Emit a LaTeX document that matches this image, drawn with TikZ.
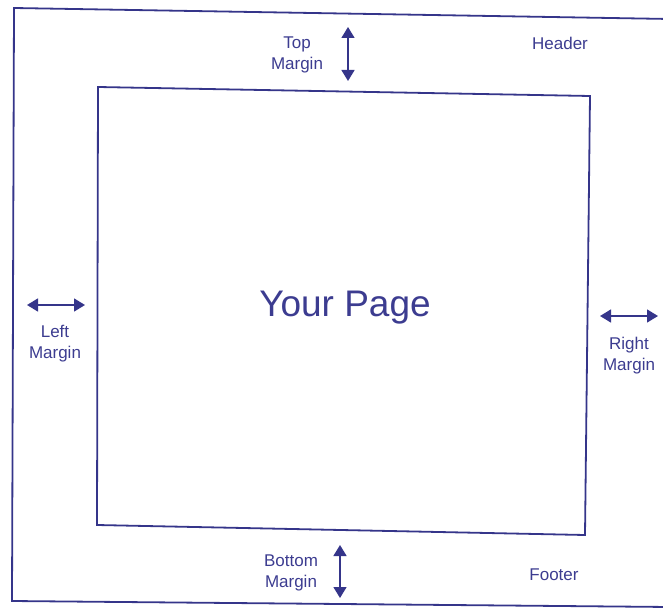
\documentclass[tikz,border=0pt]{standalone}
\usepackage{fontspec}
\setmainfont{Liberation Sans}
\usetikzlibrary{arrows.meta}
\definecolor{ink}{HTML}{35358A}
\definecolor{txt}{HTML}{3C3C90}
\tikzset{
  frame/.style={draw=ink, line width=1.8pt},
  lbl/.style={text=txt, font=\fontsize{17}{21}\selectfont, align=center, inner sep=0pt},
  big/.style={text=txt, font=\fontsize{37}{40}\selectfont, inner sep=0pt},
  dblarrow/.style={draw=ink, line width=1.5pt, {Triangle[length=11pt,width=13pt]}-{Triangle[length=11pt,width=13pt]}}
}
\begin{document}
\begin{tikzpicture}[x=1pt,y=-1pt]
\useasboundingbox (0,0) rectangle (663,612);
\clip (0,0) rectangle (663,612);
% outer page
\coordinate (o1) at (14,8);
\coordinate (o2) at (670,19);
\coordinate (o3) at (670,607);
\coordinate (o4) at (12,601);
\draw[frame] (o2) -- (o1) -- (o4) -- (o3);
% inner page
\coordinate (i1) at (98,87);
\coordinate (i2) at (590,96);
\coordinate (i3) at (585,535);
\coordinate (i4) at (97,525);
\draw[frame] (i1) -- (i2) -- (i3) -- (i4) -- cycle;
% texts
\node[big] (page) at (345,308) {Your Page};
\node[lbl] (top) at (297,55) {Top\\Margin};
\node[lbl] (header) at (560,43) {Header};
\node[lbl] (left) at (55,344) {Left\\Margin};
\node[lbl] (right) at (629,356) {Right\\Margin};
\node[lbl] (bottom) at (291,573) {Bottom\\Margin};
\node[lbl] (footer) at (554,575) {Footer};
% arrows
\coordinate (ta) at (348,27);
\coordinate (tb) at (348,81);
\draw[dblarrow] (ta) -- (tb);
\coordinate (ba) at (340,545);
\coordinate (bb) at (340,598);
\draw[dblarrow] (ba) -- (bb);
\coordinate (la) at (27,305);
\coordinate (lb) at (85,305);
\draw[dblarrow] (la) -- (lb);
\coordinate (ra) at (600,316);
\coordinate (rb) at (658,316);
\draw[dblarrow] (ra) -- (rb);
\end{tikzpicture}
\end{document}
